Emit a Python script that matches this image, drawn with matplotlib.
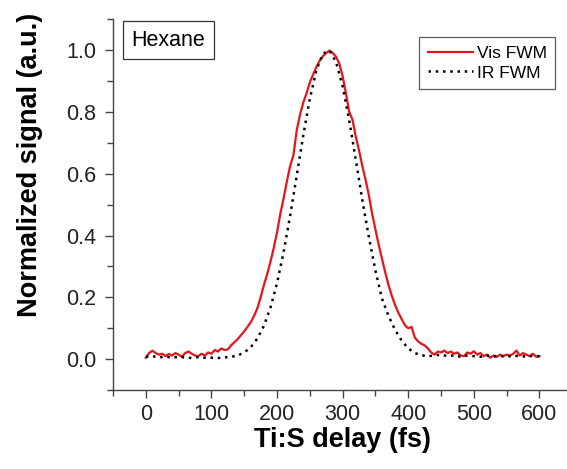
import matplotlib
matplotlib.use("Agg")
import matplotlib.pyplot as plt
from matplotlib.ticker import MultipleLocator

plt.rcParams['font.family'] = ['Liberation Sans', 'DejaVu Sans']

# Ti:S delay grids (fs)
delay_vis = list(range(0, 605, 5))
delay_ir = list(range(0, 610, 10))

# Visible four-wave-mixing signal, normalized
vis_fwm = [
    0.005, 0.020, 0.028, 0.020, 0.015, 0.018, 0.010, 0.017, 0.012, 0.020,
    0.015, 0.008, 0.020, 0.025, 0.018, 0.012, 0.010, 0.018, 0.012, 0.022,
    0.018, 0.030, 0.025, 0.035, 0.030, 0.032, 0.045, 0.055, 0.065, 0.078,
    0.090, 0.105, 0.120, 0.140, 0.165, 0.200, 0.240, 0.275, 0.315, 0.360,
    0.410, 0.470, 0.520, 0.575, 0.625, 0.660, 0.740, 0.790, 0.830, 0.860,
    0.895, 0.920, 0.945, 0.965, 0.980, 0.990, 0.998, 0.990, 0.978, 0.955,
    0.915, 0.860, 0.800, 0.775, 0.720, 0.675, 0.625, 0.580, 0.530, 0.470,
    0.420, 0.370, 0.325, 0.280, 0.240, 0.205, 0.175, 0.150, 0.130, 0.110,
    0.100, 0.105, 0.070, 0.058, 0.050, 0.045, 0.035, 0.022, 0.015, 0.025,
    0.022, 0.028, 0.020, 0.025, 0.018, 0.022, 0.012, 0.010, 0.022, 0.018,
    0.026, 0.015, 0.020, 0.010, 0.015, 0.005, 0.012, 0.008, 0.015, 0.010,
    0.015, 0.012, 0.018, 0.028, 0.012, 0.020, 0.015, 0.010, 0.018, 0.008,
    0.010,
]

# Infrared four-wave-mixing signal, normalized
ir_fwm = [
    0.008, 0.010, 0.006, 0.009, 0.005, 0.008, 0.006, 0.004, 0.007, 0.005,
    0.005, 0.004, 0.006, 0.008, 0.012, 0.022, 0.039, 0.067, 0.108, 0.167,
    0.246, 0.346, 0.464, 0.593, 0.724, 0.842, 0.934, 0.988, 0.998, 0.961,
    0.882, 0.773, 0.646, 0.515, 0.395, 0.287, 0.196, 0.140, 0.095, 0.060,
    0.035, 0.020, 0.013, 0.010, 0.012, 0.015, 0.010, 0.013, 0.008, 0.012,
    0.010, 0.008, 0.012, 0.009, 0.011, 0.008, 0.012, 0.010, 0.009, 0.011,
    0.010,
]

x_ticks = [0, 100, 200, 300, 400, 500, 600]
y_ticks = [0.0, 0.2, 0.4, 0.6, 0.8, 1.0]

fig = plt.figure(figsize=(5.67, 4.69), dpi=100)
ax = fig.add_axes([0.1993, 0.168, 0.8007, 0.7915])

ax.plot(delay_vis, vis_fwm, color='#e8141c', lw=1.6, label='Vis FWM')
ax.plot(delay_ir, ir_fwm, color='black', lw=1.8, linestyle=(0, (1, 1.9)),
        label='IR FWM')

ax.set_xlim(-50, 642)
ax.set_ylim(-0.1, 1.1)
ax.set_xticks(x_ticks)
ax.set_yticks(y_ticks)
ax.set_xticklabels([str(v) for v in x_ticks])
ax.set_yticklabels([f"{v:.1f}" for v in y_ticks])
ax.xaxis.set_minor_locator(MultipleLocator(50))
ax.yaxis.set_minor_locator(MultipleLocator(0.1))

spine_col = '#444444'
for side in ('top', 'right'):
    ax.spines[side].set_visible(False)
for side in ('left', 'bottom'):
    ax.spines[side].set_color(spine_col)
    ax.spines[side].set_linewidth(1.0)

ax.tick_params(which='major', direction='out', length=6, width=1.0,
               color=spine_col, labelsize=15.5, labelcolor='#222222', pad=4)
ax.tick_params(which='minor', direction='out', length=4, width=1.0,
               color=spine_col)
ax.tick_params(axis='y', which='major', pad=6)

ax.set_xlabel('Ti:S delay (fs)', fontsize=19.5, fontweight='bold')
ax.set_ylabel('Normalized signal (a.u.)', fontsize=19.5, fontweight='bold')
ax.xaxis.set_label_coords(0.505, -0.10)
ax.yaxis.set_label_coords(-0.155, 0.606)

ax.text(0.041, 0.943, 'Hexane', transform=ax.transAxes, fontsize=15.5,
        ha='left', va='center',
        bbox=dict(boxstyle='square,pad=0.38', fc='white', ec='#333333', lw=0.9))

leg = ax.legend(loc='upper right', bbox_to_anchor=(0.974, 0.951),
                fontsize=12.5, frameon=True, fancybox=False, borderaxespad=0,
                handlelength=2.6, handletextpad=0.2, borderpad=0.5,
                labelspacing=0.25)
leg.get_frame().set_edgecolor('#333333')
leg.get_frame().set_linewidth(0.9)

fig.savefig('out.png', dpi=100)
